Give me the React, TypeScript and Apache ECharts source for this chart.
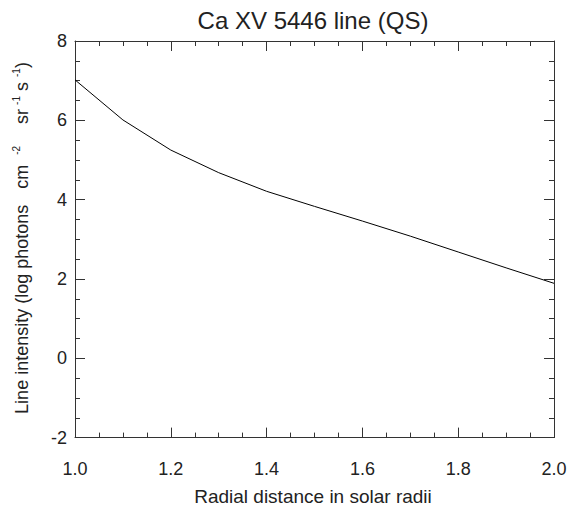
import React, { useEffect, useRef } from "react";
import * as echarts from "echarts";

const radialDistance = [1.0, 1.1, 1.2, 1.3, 1.4, 1.5, 1.6, 1.7, 1.8, 1.9, 2.0];
const lineIntensity = [7.02, 6.01, 5.25, 4.68, 4.21, 3.83, 3.46, 3.08, 2.68, 2.28, 1.89];

const titleText = "Ca XV 5446 line (QS)";
const xAxisTitle = "Radial distance in solar radii";

const FONT = "'Liberation Sans', Arial, Helvetica, sans-serif";
const TEXT = "#222";
const AXIS = "#333";

export default function App() {
  const ref = useRef<HTMLDivElement>(null);
  useEffect(() => {
    document.body.style.margin = "0";
    const chart = echarts.init(ref.current!, null, { renderer: "svg" });
    const axisCommon = {
      axisLine: { show: true, onZero: false, lineStyle: { color: AXIS, width: 1 } },
      axisTick: { show: true, inside: true, length: 10, lineStyle: { color: AXIS } },
      minorTick: { show: true, splitNumber: 4, length: 5, lineStyle: { color: AXIS } },
      splitLine: { show: false },
      minorSplitLine: { show: false },
    };
    const yLabel =
      "{m|Line intensity (log photons}{g16| }{m|cm}{g10| }{s|-2}{g22| }{m|sr}{g4| }{s|-1}{g5| }{m|s}{g5| }{s|-1}{m|)}";
    chart.setOption({
      animation: false,
      textStyle: { fontFamily: FONT },
      grid: { left: 75, right: 16, top: 41, bottom: 76.4, containLabel: false },
      xAxis: [
        {
          type: "value",
          min: 1.0,
          max: 2.0,
          interval: 0.2,
          position: "bottom",
          ...axisCommon,
          axisLabel: {
            show: true,
            margin: 22,
            fontSize: 18,
            color: TEXT,
            fontFamily: FONT,
            formatter: (v: number) => v.toFixed(1),
          },
        },
        {
          type: "value",
          min: 1.0,
          max: 2.0,
          interval: 0.2,
          position: "top",
          ...axisCommon,
          axisLabel: { show: false },
        },
      ],
      yAxis: [
        {
          type: "value",
          min: -2,
          max: 8,
          interval: 2,
          position: "left",
          ...axisCommon,
          axisLabel: {
            show: true,
            margin: 8,
            fontSize: 18,
            color: TEXT,
            fontFamily: FONT,
          },
        },
        {
          type: "value",
          min: -2,
          max: 8,
          interval: 2,
          position: "right",
          ...axisCommon,
          axisLabel: { show: false },
        },
      ],
      series: [
        {
          type: "line",
          xAxisIndex: 0,
          yAxisIndex: 0,
          data: radialDistance.map((x, i) => [x, lineIntensity[i]]),
          showSymbol: false,
          symbol: "none",
          lineStyle: { color: "#000", width: 1 },
          silent: true,
        },
      ],
      graphic: [
        {
          type: "text",
          x: 313,
          y: 20,
          style: {
            text: titleText,
            fontSize: 24,
            fontFamily: FONT,
            fill: TEXT,
            align: "center",
            verticalAlign: "middle",
          },
        },
        {
          type: "text",
          x: 313,
          y: 496,
          style: {
            text: xAxisTitle,
            fontSize: 19,
            fontFamily: FONT,
            fill: TEXT,
            align: "center",
            verticalAlign: "middle",
          },
        },
        {
          type: "text",
          x: 21,
          y: 238,
          rotation: Math.PI / 2,
          style: {
            text: yLabel,
            fontFamily: FONT,
            fill: TEXT,
            align: "center",
            verticalAlign: "middle",
            rich: {
              m: { fontSize: 18, fontFamily: FONT, fill: TEXT, color: TEXT, verticalAlign: "bottom", lineHeight: 20 },
              s: { fontSize: 10, fontFamily: FONT, fill: TEXT, color: TEXT, verticalAlign: "top", lineHeight: 10 },
              g4: { width: 4, fontSize: 10 },
              g5: { width: 5, fontSize: 10 },
              g10: { width: 10, fontSize: 10 },
              g16: { width: 16, fontSize: 10 },
              g22: { width: 22, fontSize: 10 },
            },
          },
        },
      ],
    });
    return () => chart.dispose();
  }, []);
  return <div ref={ref} style={{ width: 570, height: 514 }} />;
}
